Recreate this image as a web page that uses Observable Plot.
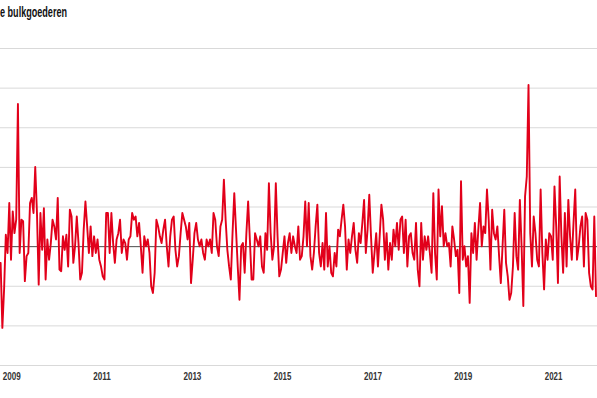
<!DOCTYPE html>
<html><head><meta charset="utf-8">
<script src="https://cdn.jsdelivr.net/npm/d3@7"></script>
<script src="https://cdn.jsdelivr.net/npm/@observablehq/plot@0.6"></script>
<style>
body{margin:0;background:#fff;overflow:hidden}
#title{height:28px;position:relative;white-space:nowrap}
#title span{position:absolute;left:0;top:4px;font-family:"Liberation Sans",Arial,sans-serif;font-weight:bold;font-size:14.5px;line-height:16px;color:#111;transform-origin:0 0;display:inline-block}
</style></head><body>
<div id="title"><span>e bulkgoederen</span></div>
<div id="chart"></div>
<script>
const startDate = "2008-10-03";
const stepDays = 14;
const values = [
-4.1,-20.5,-10.8,3.0,-1.6,11.0,-3.3,8.9,3.4,6.8,
36.0,-1.6,6.8,6.4,-8.7,-2.4,-1.6,11.0,12.3,8.5,
20.1,8.5,-9.6,8.5,-0.8,9.7,-8.3,1.8,-3.3,0.9,
6.8,5.1,1.8,12.3,-5.8,-6.2,2.6,-0.8,3.0,-5.0,
9.3,7.6,-4.1,0.1,7.6,0.9,-8.3,-6.6,4.3,11.4,
5.1,-1.6,5.1,-2.4,2.6,-1.6,1.8,-3.3,
-5.0,-7.5,-8.3,8.5,8.5,-1.6,8.5,0.9,-4.1,1.8,
3.4,6.8,-1.6,1.8,0.9,-3.3,1.8,2.6,8.5,6.8,
7.6,2.6,6.0,0.1,-6.6,2.6,0.1,1.8,-1.6,-10.0,
-11.7,-6.6,6.8,5.1,2.6,0.9,4.3,6.8,0.1,-5.0,
2.6,6.8,7.6,-0.8,-5.0,-2.4,3.4,8.5,6.8,5.1,
1.8,6.0,-9.2,-3.3,3.4,6.0,1.8,0.1,
1.8,-1.6,-3.3,1.8,0.1,1.8,-1.6,8.5,6.8,0.1,
-2.4,5.1,6.8,16.9,6.8,-0.8,-5.0,-8.3,3.4,13.5,
4.3,-5.0,-13.4,0.1,0.9,-6.6,3.4,11.4,1.8,-8.3,
-8.3,3.4,1.8,0.1,2.6,-5.0,-6.6,3.4,-0.8,16.0,
3.4,-3.3,0.1,16.0,2.6,-7.5,-5.8,-1.6,2.6,-4.1,
0.9,3.4,-1.6,2.6,0.1,-1.6,5.1,-3.3,
-2.4,2.6,11.4,0.1,11.0,-2.4,-5.8,-1.6,5.1,10.6,
-1.6,-5.0,0.9,-5.8,8.5,-5.0,0.1,-6.6,-7.5,-1.6,
-5.0,4.3,2.6,6.8,10.6,5.1,-5.8,1.8,-1.6,2.6,
6.0,-0.8,-4.1,3.4,0.9,6.0,11.8,-1.6,4.3,13.1,
2.6,-6.6,-1.6,3.4,-5.0,2.6,10.6,6.8,-3.3,3.4,
-5.8,0.9,-3.3,4.3,0.1,6.0,-0.8,6.8,
7.6,-1.6,6.8,-5.0,2.6,3.4,-1.6,-3.3,6.0,-5.8,
-10.0,6.0,-3.3,2.6,-0.8,2.6,-1.6,-6.6,13.5,-1.6,
-8.3,14.4,2.6,10.2,0.1,3.4,0.1,0.9,-5.0,5.1,
1.8,-2.4,-0.8,-11.7,16.5,-3.3,0.1,-5.0,-2.4,-14.2,
3.4,-1.6,6.0,-3.3,4.3,11.0,0.1,5.1,3.4,14.4,
6.8,-5.8,9.3,3.4,1.8,
5.1,-2.4,-9.2,0.1,9.3,-4.1,-7.5,-13.4,-11.7,-5.0,
8.5,-2.4,-5.8,11.8,0.1,-15.0,12.7,17.7,40.8,
3.4,-5.0,7.6,3.4,-3.3,-5.0,14.4,-1.6,-10.8,1.8,
-3.3,3.4,2.6,-3.3,15.2,5.1,-9.2,17.7,2.6,-6.6,
8.5,-5.0,11.8,2.6,-3.3,6.0,14.4,-3.3,0.1,5.1,
7.6,-5.0,8.5,6.8,-6.6,-10.0,-10.8,7.6,-12.5
];
const yTicks = [-30,-20,-10,0,10,20,30,40,50];
const xTickYears = [2009,2011,2013,2015,2017,2019,2021];
const xDomain = ["2008-10-02","2021-12-22"];

const start = new Date(startDate + "T00:00:00Z");
const data = values.map((v, i) => ({date: d3.utcDay.offset(start, i * stepDays), value: v}));
const xTicks = xTickYears.map(y => new Date(Date.UTC(y, 0, 1)));

const chart = Plot.plot({
  width: 597, height: 370,
  marginLeft: 0, marginRight: 0, marginTop: 20, marginBottom: 33,
  style: {fontFamily: '"Liberation Sans",Arial,sans-serif', fontSize: "11.5px", fontWeight: "bold", color: "#333", background: "#fff", overflow: "visible"},
  x: {type: "utc", domain: xDomain.map(d => new Date(d + "T00:00:00Z")), ticks: xTicks, tickFormat: d3.utcFormat("%Y"), tickSize: 0, tickPadding: 6, label: null},
  y: {domain: [-30, 50], axis: null},
  marks: [
    Plot.ruleY(yTicks, {stroke: "#d9d9d9", strokeWidth: 1}),
    Plot.ruleY([0], {stroke: "#555", strokeWidth: 1}),
    Plot.lineY(data, {x: "date", y: "value", stroke: "#e2001a", strokeWidth: 1.9, clip: true})
  ]
});
document.getElementById("chart").appendChild(chart);

// condense text to mimic the narrow typeface of the original
const t = document.querySelector("#title span");
t.style.transform = `scaleX(${67 / t.getBoundingClientRect().width})`;
chart.querySelectorAll('g[aria-label="x-axis tick label"] text').forEach(el => {
  const w = el.getBBox().width;
  const k = 18 / w;
  const tr = el.getAttribute("transform") || "";
  el.setAttribute("transform", tr + ` scale(${k},1)`);
});
</script>
</body></html>
